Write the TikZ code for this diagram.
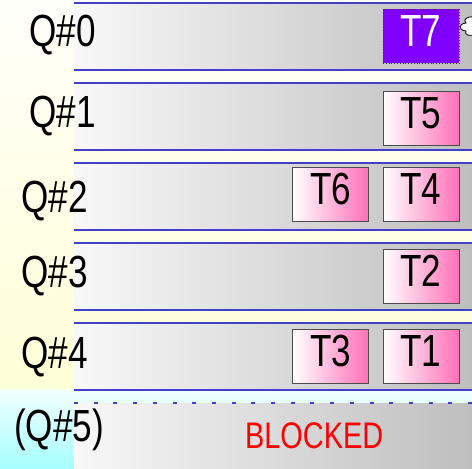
\documentclass[tikz,border=0pt]{standalone}
\usepackage{fontspec}
\setmainfont[FakeStretch=0.78]{Liberation Sans}
\definecolor{bandL}{HTML}{F8F8F8}
\definecolor{bandR}{HTML}{BEBEBE}
\definecolor{lineblue}{HTML}{4040C8}
\definecolor{hotpink}{HTML}{FF70B8}
\definecolor{tpurple}{HTML}{8000FF}
\definecolor{creamtop}{HTML}{FFFFFA}
\definecolor{creambot}{HTML}{FFFFD8}
\definecolor{cyantop}{HTML}{F2FFFF}
\definecolor{cyanbot}{HTML}{A6FFFF}
\begin{document}
\begin{tikzpicture}[x=1pt,y=-1pt,
  bandline/.style={draw=lineblue, line width=1.1pt},
  qlabel/.style={anchor=base west, inner sep=0pt, font=\fontsize{45}{50}\selectfont},
  tbase/.style={line width=0.8pt, minimum width=76pt, minimum height=54pt,
    inner sep=0pt, text height=31pt, text depth=11pt, font=\fontsize{45}{50}\selectfont},
  tbox/.style={tbase, draw=black!70, left color=white, right color=hotpink},
  tactive/.style={tbase, fill=tpurple, text=white, dotted, draw=black!80}]
\useasboundingbox (0,0) rectangle (472,469);
\shade[top color=creamtop, bottom color=creambot] (0,0) rectangle (472,389);
\shade[top color=cyantop, bottom color=cyanbot] (0,389) rectangle (472,469);
% queue bands
\foreach \t in {3,83,163,243,323}{
  \shade[left color=bandL, right color=bandR] (74,\t) rectangle (472,\t+67);
  \draw[bandline] (74,\t) -- (472,\t);
  \draw[bandline] (74,\t+67) -- (472,\t+67);
}
\shade[left color=bandL, right color=bandR] (74,403) rectangle (472,469);
\draw[draw=lineblue, line width=1.1pt, dash pattern=on 4pt off 15.7pt] (74,403) -- (472,403);
% labels
\node[qlabel] (q0) at (29,46) {Q\#0};
\node[qlabel] (q1) at (29,127) {Q\#1};
\node[qlabel] (q2) at (21,212) {Q\#2};
\node[qlabel] (q3) at (21,287) {Q\#3};
\node[qlabel] (q4) at (21,368) {Q\#4};
\node[qlabel] (q5) at (14,441) {(Q\#5)};
% tasks
\node[tactive] (t7) at (421,36) {T7};
\node[tbox] (t5) at (421,118) {T5};
\node[tbox] (t6) at (330.5,194.5) {T6};
\node[tbox] (t4) at (421,194.5) {T4};
\node[tbox] (t2) at (421,276.5) {T2};
\node[tbox] (t3) at (330.5,356.5) {T3};
\node[tbox] (t1) at (421,356.5) {T1};
\node[anchor=base west, inner sep=0pt, text=red, font=\fontsize{37}{42}\selectfont] (blocked) at (245,448) {BLOCKED};
% callout cloud at the right edge
\draw[fill=white, draw=black, line width=0.8pt]
  (474,17) .. controls (466,16) and (463,20) .. (466,23)
  .. controls (458,24) and (458,30) .. (466,31)
  .. controls (464,35) and (469,36) .. (474,35);
\end{tikzpicture}
\end{document}
